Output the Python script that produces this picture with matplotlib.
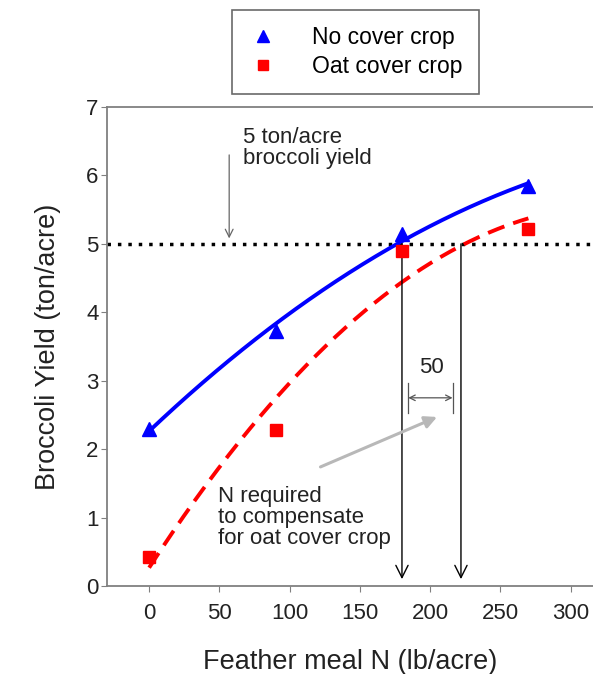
import numpy as np
import matplotlib
matplotlib.use("Agg")
import matplotlib.pyplot as plt

# Data
n_rate = [0, 90, 180, 270]
yield_no_cover = [2.30, 3.72, 5.15, 5.85]
yield_oat_cover = [0.42, 2.28, 4.90, 5.22]
target_yield = 5
n_at_target = [180, 222]
x_ticks = [0, 50, 100, 150, 200, 250, 300]
y_ticks = [0, 1, 2, 3, 4, 5, 6, 7]

plt.rcParams['font.family'] = ['Liberation Sans', 'DejaVu Sans']

fig = plt.figure(figsize=(5.93, 6.74), dpi=100)
ax = fig.add_axes([0.1804, 0.1306, 0.8196, 0.7106])

xs = np.linspace(0, 270, 200)
p_blue = np.polyfit(n_rate, yield_no_cover, 2)
p_red = np.polyfit(n_rate, yield_oat_cover, 2)

ax.plot(xs, np.polyval(p_blue, xs), color='#0000ff', lw=2.8, zorder=3)
ax.plot(xs, np.polyval(p_red, xs), color='#ff0000', lw=2.8, ls=(0, (4.5, 2.4)), zorder=3)
l1, = ax.plot(n_rate, yield_no_cover, '^', color='#0000ff', ms=10, ls='none', zorder=4)
l2, = ax.plot(n_rate, yield_oat_cover, 's', color='#ff0000', ms=8.5, ls='none', zorder=4)

ax.axhline(target_yield, color='black', lw=2.5, ls=(0, (1, 2.0)), zorder=2)

for xv in n_at_target:
    ax.annotate('', xy=(xv, 0.1), xytext=(xv, target_yield),
                arrowprops=dict(arrowstyle='->', color='black', lw=1.0,
                                mutation_scale=22, shrinkA=0, shrinkB=0))

# 50 bracket
ax.annotate('', xy=(184.5, 2.75), xytext=(216, 2.75),
            arrowprops=dict(arrowstyle='<->', color='#555555', lw=0.9,
                            mutation_scale=10, shrinkA=0, shrinkB=0))
for xv in [184.5, 216]:
    ax.plot([xv, xv], [2.53, 2.97], color='#555555', lw=0.9)
ax.text(201, 3.2, '50', ha='center', va='center', fontsize=16, color='#222222')

# gray arrow
ax.annotate('', xy=(205, 2.47), xytext=(122, 1.74),
            arrowprops=dict(arrowstyle='-|>', color='#b8b8b8', lw=2.2,
                            mutation_scale=18, shrinkA=0, shrinkB=0))
ax.text(49, 1.0, 'N required\nto compensate\nfor oat cover crop', ha='left',
        va='center', fontsize=16, color='#222222', linespacing=1.0)

# 5 ton/acre arrow
ax.annotate('', xy=(57, 5.08), xytext=(57, 6.3),
            arrowprops=dict(arrowstyle='->', color='#666666', lw=0.9,
                            mutation_scale=14, shrinkA=0, shrinkB=0))
ax.text(67, 6.4, '5 ton/acre\nbroccoli yield', ha='left', va='center',
        fontsize=16, color='#222222', linespacing=1.05)

ax.set_xlim(-30, 316)
ax.set_ylim(0, 7)
ax.set_xticks(x_ticks)
ax.set_yticks(y_ticks)
ax.tick_params(direction='out', length=4, color='#808080', labelsize=16,
               labelcolor='#222222', pad=8)
ax.tick_params(axis='y', pad=2)
for s in ['left', 'bottom', 'top']:
    ax.spines[s].set_color('#808080')
    ax.spines[s].set_linewidth(1.3)
ax.spines['right'].set_visible(False)

ax.set_xlabel('Feather meal N (lb/acre)', fontsize=19.5, color='#222222', labelpad=18)
ax.set_ylabel('Broccoli Yield (ton/acre)', fontsize=19.5, color='#222222', labelpad=18)

fig.legend([l1, l2], ['No cover crop', 'Oat cover crop'],
           loc='upper left', bbox_to_anchor=(232 / 593, 1 - 10 / 674),
           bbox_transform=fig.transFigure, fontsize=16.5, frameon=True,
           fancybox=False, edgecolor='#444444', borderpad=0.7,
           handletextpad=1.5, handlelength=1.3, borderaxespad=0, markerscale=0.8,
           labelspacing=0.25)
fig.legends[0].get_frame().set_linewidth(1.2)

fig.savefig('out.png', dpi=100)
